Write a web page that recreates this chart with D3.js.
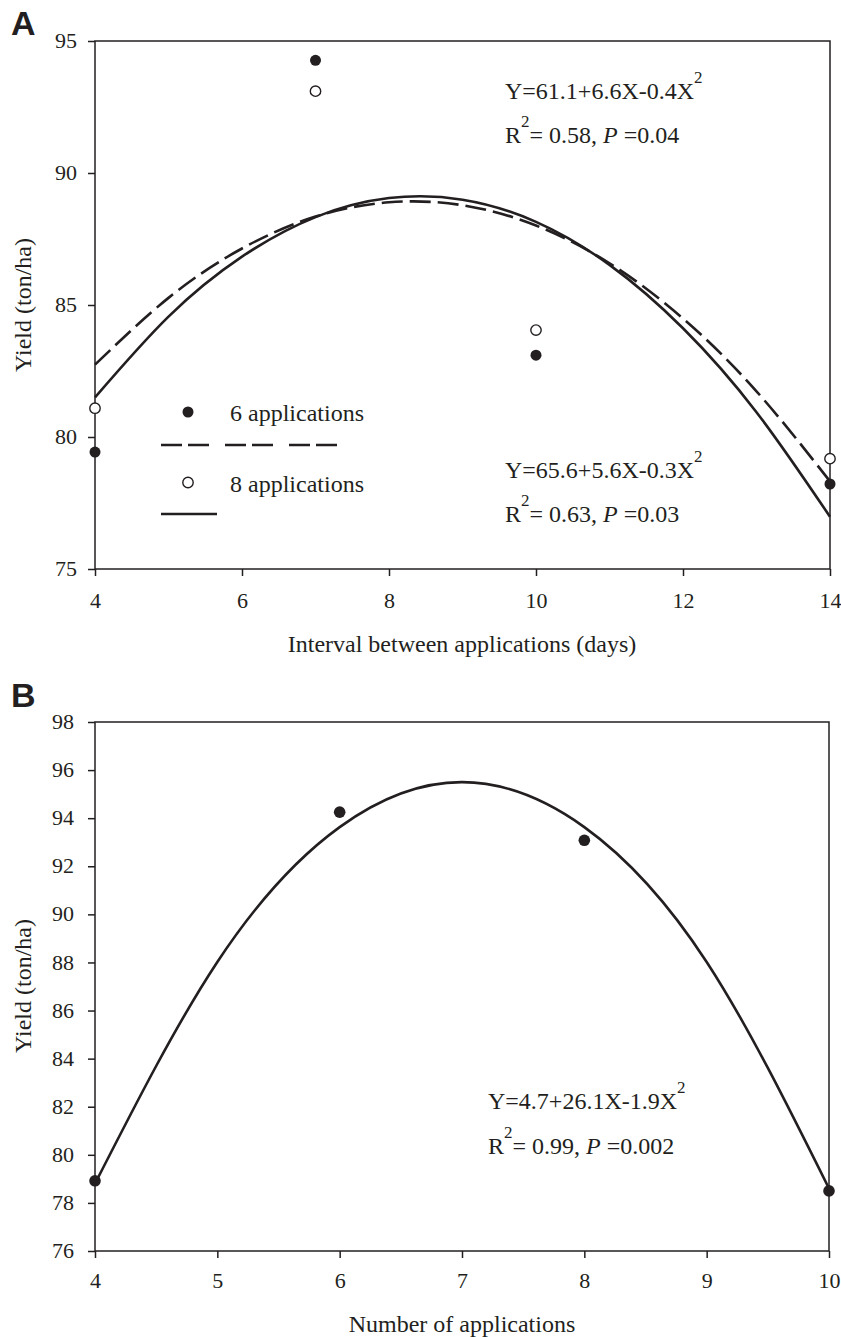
<!DOCTYPE html>
<meta charset="utf-8">
<style>
    body { margin: 0; background: #fff; }
    text { font-family: "Liberation Serif", "Times New Roman", serif; fill: #231f20; }
    .axis path, .axis line { stroke: #231f20; stroke-width: 1.5; }
    .frame { fill: none; stroke: #231f20; stroke-width: 1.5; }
    .fit { fill: none; stroke: #231f20; stroke-width: 2.6; }
</style>
<body>
<script src="https://cdnjs.cloudflare.com/ajax/libs/d3/7.8.5/d3.min.js"></script>
<script>
    var SERIF = "'Liberation Serif', 'Times New Roman', serif";

    // ---- panel A data: interval between applications (days)
    var intervalDays = [4, 7, 10, 14];
    var yield6 = [79.43, 94.27, 83.1, 78.22];
    var yield8 = [81.09, 93.1, 84.05, 79.18];
    // fitted curves
    var curveX_A = [4, 5, 6, 7, 8, 9, 10, 11, 12, 13, 14];
    var fit6 = [82.74, 85.27, 87.14, 88.35, 88.89, 88.78, 88.01, 86.58, 84.49, 81.73, 78.32];
    var fit8 = [81.50, 84.56, 86.83, 88.33, 89.05, 88.99, 88.15, 86.52, 84.12, 80.94, 76.98];
    var xTicksA = [4, 6, 8, 10, 12, 14];
    var yTicksA = [75, 80, 85, 90, 95];

    // ---- panel B data: number of applications
    var nApps = [4, 6, 8, 10];
    var yieldB = [78.92, 94.25, 93.08, 78.5];
    var curveX_B = [4, 5, 6, 7, 8, 9, 10];
    var fitB = [78.8, 88.02, 93.63, 95.5, 93.63, 88.02, 78.6];
    var xTicksB = [4, 5, 6, 7, 8, 9, 10];
    var yTicksB = [76, 78, 80, 82, 84, 86, 88, 90, 92, 94, 96, 98];

    var svg = d3.select("body").append("svg")
        .attr("width", 841)
        .attr("height", 1337);

    function panel(opt) {
        var g = svg.append("g").attr("transform", "translate(" + opt.left + "," + opt.top + ")");
        var x = d3.scaleLinear().domain(opt.xDomain).range([0, opt.width]);
        var y = d3.scaleLinear().domain(opt.yDomain).range([opt.height, 0]);

        g.append("rect").attr("class", "frame")
            .attr("width", opt.width).attr("height", opt.height);

        g.append("g").attr("class", "axis")
            .attr("transform", "translate(0," + opt.height + ")")
            .call(d3.axisBottom(x).tickValues(opt.xTicks).tickFormat(d3.format("d"))
                .tickSize(7).tickSizeOuter(0).tickPadding(opt.xPad))
            .call(styleAxis);

        g.append("g").attr("class", "axis")
            .call(d3.axisLeft(y).tickValues(opt.yTicks).tickFormat(d3.format("d"))
                .tickSize(7).tickSizeOuter(0).tickPadding(opt.yPad))
            .call(styleAxis)
            .call(function(s) { s.selectAll("text").attr("dy", "0.3em"); });

        return {g: g, x: x, y: y};
    }

    function styleAxis(s) {
        s.attr("font-family", null).attr("font-size", null);
        s.select(".domain").remove();
        s.selectAll("text")
            .style("font-family", SERIF)
            .style("font-size", "22px")
            .attr("fill", "#231f20");
    }

    function txt(g, x, y, s) {
        return g.append("text").attr("x", x).attr("y", y)
            .style("font-family", SERIF).style("font-size", "24px").text(s);
    }

    function superLine(g, x, y, parts) {
        var t = g.append("text").attr("x", x).attr("y", y)
            .style("font-family", SERIF).style("font-size", "24px");
        parts.forEach(function(p) {
            var ts = t.append("tspan").text(p.t);
            if (p.sup) ts.attr("dy", -16).style("font-size", "17px");
            if (p.down) ts.attr("dy", 16);
            if (p.it) ts.style("font-style", "italic");
        });
        return t;
    }

    // ---------------- Panel A
    var A = panel({left: 95, top: 41, width: 735, height: 528,
        xDomain: [4, 14], yDomain: [75, 95], xTicks: xTicksA, yTicks: yTicksA, xPad: 16, yPad: 11});

    var lineA = d3.line().curve(d3.curveNatural)
        .x(function(d) { return A.x(d[0]); })
        .y(function(d) { return A.y(d[1]); });

    A.g.append("path").attr("class", "fit")
        .attr("d", lineA(d3.zip(curveX_A, fit8)));
    A.g.append("path").attr("class", "fit")
        .attr("stroke-dasharray", "21,7")
        .attr("d", lineA(d3.zip(curveX_A, fit6)));

    A.g.selectAll("circle.s6").data(d3.zip(intervalDays, yield6)).enter().append("circle")
        .attr("cx", function(d) { return A.x(d[0]); })
        .attr("cy", function(d) { return A.y(d[1]); })
        .attr("r", 5.5).attr("fill", "#231f20");
    A.g.selectAll("circle.s8").data(d3.zip(intervalDays, yield8)).enter().append("circle")
        .attr("cx", function(d) { return A.x(d[0]); })
        .attr("cy", function(d) { return A.y(d[1]); })
        .attr("r", 5.2).attr("fill", "#fff").attr("stroke", "#231f20").attr("stroke-width", 1.4);

    // legend
    var lg = A.g.append("g").attr("transform", "translate(66,0)");
    lg.append("circle").attr("cx", 27).attr("cy", 371).attr("r", 5.5).attr("fill", "#231f20");
    txt(lg, 69, 380, "6 applications");
    lg.append("line").attr("x1", 0).attr("x2", 177).attr("y1", 404).attr("y2", 404)
        .attr("stroke", "#231f20").attr("stroke-width", 2.6).attr("stroke-dasharray", "21,6,21,16");
    lg.append("circle").attr("cx", 27).attr("cy", 441.5).attr("r", 5.2)
        .attr("fill", "#fff").attr("stroke", "#231f20").attr("stroke-width", 1.4);
    txt(lg, 69, 451, "8 applications");
    lg.append("line").attr("x1", 0).attr("x2", 56).attr("y1", 473).attr("y2", 473)
        .attr("stroke", "#231f20").attr("stroke-width", 2.6);

    // equations
    superLine(A.g, 410, 58, [{t: "Y=61.1+6.6X-0.4X"}, {t: "2", sup: true}]);
    superLine(A.g, 410, 102, [{t: "R"}, {t: "2", sup: true}, {t: "= 0.58, ", down: true}, {t: "P", it: true}, {t: " =0.04"}]);
    superLine(A.g, 410, 437, [{t: "Y=65.6+5.6X-0.3X"}, {t: "2", sup: true}]);
    superLine(A.g, 410, 481, [{t: "R"}, {t: "2", sup: true}, {t: "= 0.63, ", down: true}, {t: "P", it: true}, {t: " =0.03"}]);

    txt(svg, 462, 652, "Interval between applications (days)").attr("text-anchor", "middle");
    txt(svg, 0, 0, "Yield (ton/ha)").attr("text-anchor", "middle")
        .attr("transform", "translate(31,305) rotate(-90)");
    svg.append("text").attr("x", 11).attr("y", 35)
        .style("font-family", "'Liberation Sans', Arial, sans-serif")
        .style("font-weight", "bold").style("font-size", "34px").text("A");

    // ---------------- Panel B
    var B = panel({left: 95, top: 722, width: 734, height: 529,
        xDomain: [4, 10], yDomain: [76, 98], xTicks: xTicksB, yTicks: yTicksB, xPad: 14, yPad: 14});

    var lineB = d3.line().curve(d3.curveNatural)
        .x(function(d) { return B.x(d[0]); })
        .y(function(d) { return B.y(d[1]); });

    B.g.append("path").attr("class", "fit")
        .attr("d", lineB(d3.zip(curveX_B, fitB)));

    B.g.selectAll("circle.pt").data(d3.zip(nApps, yieldB)).enter().append("circle")
        .attr("cx", function(d) { return B.x(d[0]); })
        .attr("cy", function(d) { return B.y(d[1]); })
        .attr("r", 5.8).attr("fill", "#231f20");

    superLine(B.g, 393, 387, [{t: "Y=4.7+26.1X-1.9X"}, {t: "2", sup: true}]);
    superLine(B.g, 393, 432, [{t: "R"}, {t: "2", sup: true}, {t: "= 0.99, ", down: true}, {t: "P", it: true}, {t: " =0.002"}]);

    txt(svg, 462, 1332, "Number of applications").attr("text-anchor", "middle");
    txt(svg, 0, 0, "Yield (ton/ha)").attr("text-anchor", "middle")
        .attr("transform", "translate(31,986) rotate(-90)");
    svg.append("text").attr("x", 11).attr("y", 707)
        .style("font-family", "'Liberation Sans', Arial, sans-serif")
        .style("font-weight", "bold").style("font-size", "34px").text("B");
</script>
